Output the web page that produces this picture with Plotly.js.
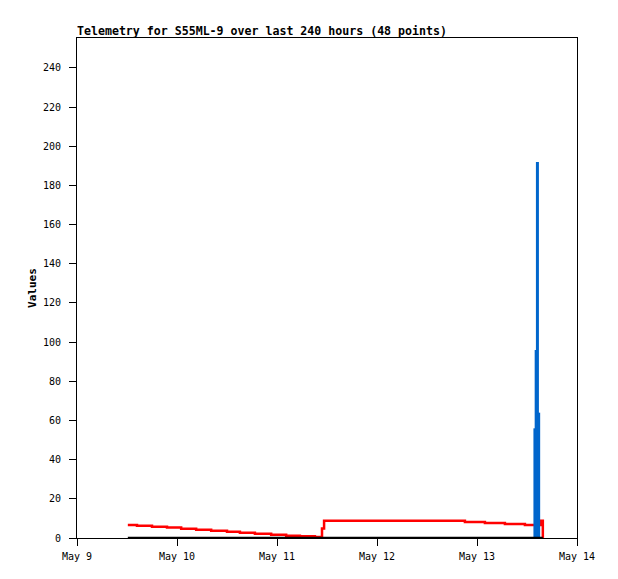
<!DOCTYPE html>
<html>
<head>
<meta charset="utf-8">
<script src="https://cdn.plot.ly/plotly-3.0.1.min.js"></script>
<style>
  html, body { margin: 0; padding: 0; background: #ffffff; }
  #chart { width: 618px; height: 579px; }
</style>
</head>
<body>
<div id="chart"></div>
<script>
// Series 1 (red, step line)
const redTimes = [
  '2024-05-09 12:12', '2024-05-09 14:24', '2024-05-09 18:00', '2024-05-09 21:36',
  '2024-05-10 01:00', '2024-05-10 04:36', '2024-05-10 08:12', '2024-05-10 12:00',
  '2024-05-10 15:06', '2024-05-10 18:42', '2024-05-10 22:36', '2024-05-11 02:12',
  '2024-05-11 05:30', '2024-05-11 09:06', '2024-05-11 10:48', '2024-05-11 11:18',
  '2024-05-12 21:06', '2024-05-13 01:54', '2024-05-13 06:42', '2024-05-13 11:30',
  '2024-05-13 15:18', '2024-05-13 15:48'
];
const redValues = [6.7, 6.3, 5.8, 5.3, 4.7, 4.2, 3.7, 3.2, 2.7, 2.2, 1.7, 1.2,
                   0.9, 0.5, 4.9, 8.8, 8.2, 7.7, 7.1, 6.6, 8.8, 0];

// Series 2 (black, flat line)
const blackTimes = redTimes;
const blackValues = [0, 0, 0, 0, 0, 0, 0, 0, 0, 0, 0, 0, 0, 0, 0, 0, 0, 0, 0, 0, 0, 0];

// Series 3 (blue, impulses)
const blueTimes = ['2024-05-13 13:54', '2024-05-13 14:12', '2024-05-13 14:30', '2024-05-13 14:48'];
const blueValues = [56, 96, 192, 64];

// Axis ticks
const xRange = ['2024-05-09 00:00', '2024-05-14 00:00'];
const yTicks = [0, 20, 40, 60, 80, 100, 120, 140, 160, 180, 200, 220, 240];

// Build impulses as vertical segments from the data
const impX = [], impY = [];
blueTimes.forEach((t, i) => { impX.push(t, t, null); impY.push(0, blueValues[i], null); });

const mono = 'DejaVu Sans Mono, Liberation Mono, monospace';

const traces = [
  { x: redTimes, y: redValues, type: 'scatter', mode: 'lines',
    line: { color: '#ff0000', width: 2.5, shape: 'hv' }, hoverinfo: 'skip' },
  { x: impX, y: impY, type: 'scatter', mode: 'lines',
    line: { color: '#0066cc', width: 3 }, hoverinfo: 'skip' },
  { x: blackTimes, y: blackValues, type: 'scatter', mode: 'lines',
    line: { color: '#000000', width: 2.5 }, hoverinfo: 'skip' }
];

const layout = {
  width: 618, height: 579,
  margin: { l: 77, r: 41, t: 38, b: 41 },
  paper_bgcolor: '#ffffff', plot_bgcolor: '#ffffff',
  showlegend: false,
  font: { family: mono, size: 10, color: '#000000' },
  title: {
    text: '<b>Telemetry for S55ML-9 over last 240 hours (48 points)</b>',
    font: { family: mono, size: 11.6, color: '#000000' },
    x: 77 / 618, xref: 'container', xanchor: 'left',
    y: 1 - 31 / 579, yref: 'container', yanchor: 'middle'
  },
  xaxis: {
    type: 'date', range: xRange, tick0: xRange[0], dtick: 86400000,
    tickformat: '%b %-d', showgrid: false, zeroline: false,
    showline: true, linecolor: '#000000', linewidth: 1, mirror: true,
    ticks: 'outside', ticklen: 7, tickwidth: 1, tickcolor: '#000000',
    ticklabelstandoff: 2,
    tickfont: { family: mono, size: 10, color: '#000000' }
  },
  yaxis: {
    range: [0, 255.3], tickvals: yTicks, ticktext: yTicks.map(String),
    showgrid: false, zeroline: false,
    showline: true, linecolor: '#000000', linewidth: 1, mirror: true,
    ticks: 'outside', ticklen: 7, tickwidth: 1, tickcolor: '#000000',
    ticklabelstandoff: 6,
    tickfont: { family: mono, size: 10, color: '#000000' },
    title: { text: '<b>Values</b>', font: { family: mono, size: 11, color: '#000000' }, standoff: 4 }
  }
};

Plotly.newPlot('chart', traces, layout, { staticPlot: true, displayModeBar: false });
</script>
</body>
</html>
